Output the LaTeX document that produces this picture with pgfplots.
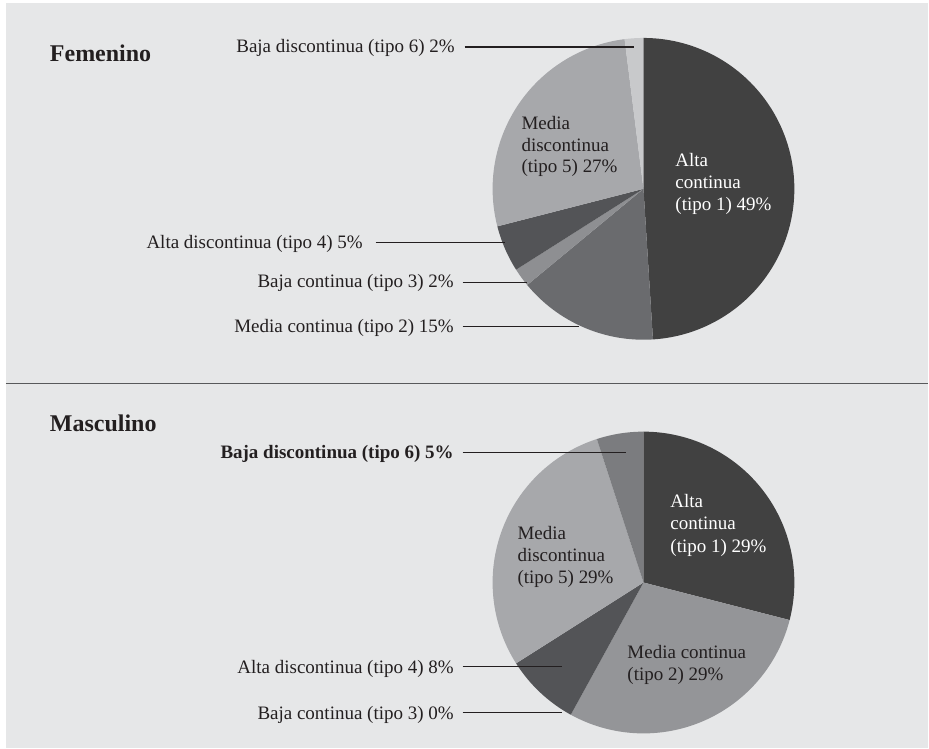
\documentclass[border=0pt]{standalone}
\usepackage{pgfplots}
\pgfplotsset{compat=1.18}
\usepgfplotslibrary{polar}
\usepackage{fontspec}
\setmainfont{Liberation Serif}

\definecolor{bg}{HTML}{E6E7E8}
\definecolor{ink}{HTML}{231F20}
\definecolor{rule}{HTML}{58595B}
\definecolor{tA}{HTML}{414141}   % tipo 1
\definecolor{tBf}{HTML}{6A6B6E}  % tipo 2 (femenino)
\definecolor{tBm}{HTML}{949598}  % tipo 2 (masculino)
\definecolor{tC}{HTML}{8E8F92}   % tipo 3
\definecolor{tD}{HTML}{535457}   % tipo 4
\definecolor{tE}{HTML}{A7A8AB}   % tipo 5
\definecolor{tFf}{HTML}{C8C9CB}  % tipo 6 (femenino)
\definecolor{tFm}{HTML}{7B7C7F}  % tipo 6 (masculino)

% one wedge: #1 cumulative share before it (%), #2 its share (%), #3 colour
% wedges start at 12 o'clock and run clockwise
\newcommand\slice[3]{%
  \pgfmathsetmacro\angA{90-3.6*#1}%
  \pgfmathsetmacro\angB{90-3.6*(#1+#2)}%
  \edef\doslice{\noexpand\addplot[fill=#3, draw=none, domain=\angB:\angA, samples=150] {1} -- (axis cs:0,0) -- cycle;}%
  \doslice}

\pgfplotsset{pie/.style={
  scale only axis, width=151pt, height=151pt,
  hide axis, clip=false, ymin=0, ymax=1, anchor=center}}

\newcommand\lab[3]{\node[anchor=base west,text=#3] at (#1) {#2};}

\begin{document}
\begin{tikzpicture}[x=0.5pt,y=0.5pt,
  every node/.style={inner sep=0pt, outer sep=0pt, text=ink,
    font=\fontsize{9.5}{11}\selectfont}]
\fill[white] (0,0) rectangle (929,749);
\fill[bg] (6,0) rectangle (929,746);
\draw[rule, line width=0.75pt] (6,365) -- (929,365);
\coordinate (fem) at (644,560);
\coordinate (mas) at (644,166);

% Femenino: 49, 15, 2, 5, 27, 2
\begin{polaraxis}[pie, at={(fem)}]
  \slice{0}{49}{tA}
  \slice{49}{15}{tBf}
  \slice{64}{2}{tC}
  \slice{66}{5}{tD}
  \slice{71}{27}{tE}
  \slice{98}{2}{tFf}
\end{polaraxis}

% Masculino: 29, 29, 0, 8, 29, 5 (tipo 3 is empty)
\begin{polaraxis}[pie, at={(mas)}]
  \slice{0}{29}{tA}
  \slice{29}{29}{tBm}
  \slice{58}{8}{tD}
  \slice{66}{29}{tE}
  \slice{95}{5}{tFm}
\end{polaraxis}

\node[anchor=base west, font=\bfseries\fontsize{12}{14}\selectfont] at (50,687) {Femenino};
\node[anchor=base west, font=\bfseries\fontsize{12}{14}\selectfont] at (50,317) {Masculino};

\begin{scope}[ink, line width=0.7pt]
  \draw (465,702) -- (635,702);
  \draw (376,506) -- (505,506);
  \draw (463,466) -- (527,466);
  \draw (463,422) -- (579,422);
  \draw (463,296) -- (627,296);
  \draw (463,82) -- (562,82);
  \draw (463,36) -- (562,36);
\end{scope}

\node[anchor=base east] at (455,696) {Baja discontinua (tipo 6) 2\%};
\node[anchor=base east] at (363,500) {Alta discontinua (tipo 4) 5\%};
\node[anchor=base east] at (454,461) {Baja continua (tipo 3) 2\%};
\node[anchor=base east] at (454,416) {Media continua (tipo 2) 15\%};

\node[anchor=base east, font=\bfseries\fontsize{9.5}{11}\selectfont] at (454,290) {Baja discontinua (tipo 6) 5\%};
\node[anchor=base east] at (454,75) {Alta discontinua (tipo 4) 8\%};
\node[anchor=base east] at (454,29) {Baja continua (tipo 3) 0\%};

\lab{522,619}{Media}{ink}
\lab{522,597}{discontinua}{ink}
\lab{522,576}{(tipo 5) 27\%}{ink}
\lab{676,582}{Alta}{white}
\lab{676,560}{continua}{white}
\lab{676,538}{(tipo 1) 49\%}{white}

\lab{671,241}{Alta}{white}
\lab{671,219}{continua}{white}
\lab{671,196}{(tipo 1) 29\%}{white}
\lab{518,209}{Media}{ink}
\lab{518,187}{discontinua}{ink}
\lab{518,165}{(tipo 5) 29\%}{ink}
\lab{628,90}{Media continua}{ink}
\lab{628,68}{(tipo 2) 29\%}{ink}
\end{tikzpicture}
\end{document}
